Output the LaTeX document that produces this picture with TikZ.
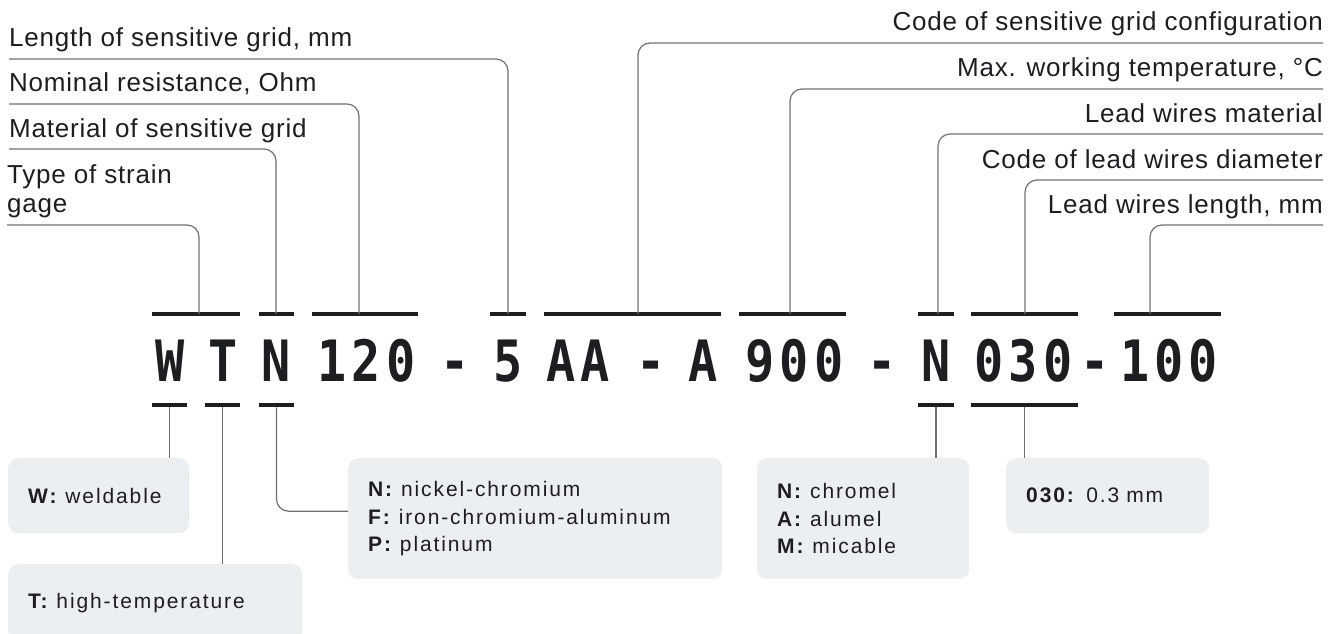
\documentclass[tikz,border=0pt]{standalone}
\usepackage{fontspec}
\setmainfont{Liberation Sans}
\newfontfamily\codefont[FakeStretch=0.85,LetterSpace=9,Numbers=SlashedZero]{DejaVu Sans Mono}
\newfontfamily\lblfont[LetterSpace=3]{Liberation Sans}
\newfontfamily\boxfont[LetterSpace=9]{Liberation Sans}
\definecolor{ink}{HTML}{1D1E21}
\definecolor{leadgray}{HTML}{707072}
\definecolor{boxgray}{HTML}{ECEFF2}

\begin{document}
\begin{tikzpicture}[x=1pt,y=-1pt,
  code/.style={font=\codefont\bfseries\fontsize{57}{60}\selectfont,text=ink,inner sep=0pt,anchor=base},
  bar/.style={fill=ink,inner sep=0pt,minimum height=4.5pt},
  lead/.style={draw=leadgray,line width=1.2pt,rounded corners=12pt},
  toplbl/.style={font=\lblfont\fontsize{26}{29}\selectfont,text=ink,inner sep=0pt,align=left},
  infobox/.style={fill=boxgray,rounded corners=10pt,anchor=north west,inner xsep=20pt,inner ysep=0pt,
    align=left,text=ink,font=\boxfont\fontsize{21}{27.5}\selectfont}]
  \useasboundingbox (0,0) rectangle (1341,634);
  \clip (0,0) rectangle (1341,634);

  % the code itself
  \node[code] (cW) at (170,381) {W};
  \node[code] (cT) at (223,381) {T};
  \node[code] (cN) at (276.5,381) {N};
  \node[code] (c120) at (366.5,381) {120};
  \node[code] (d1) at (455,381) {-};
  \node[code] (c5) at (508,381) {5};
  \node[code] (cAA) at (578,381) {AA};
  \node[code] (d2) at (651,381) {-};
  \node[code] (cA) at (703.5,381) {A};
  \node[code] (c900) at (794.5,381) {900};
  \node[code] (d3) at (882,381) {-};
  \node[code] (cN2) at (936,381) {N};
  \node[code] (c030) at (1023.5,381) {030};
  \node[code] (d4) at (1095.5,381) {-};
  \node[code] (c100) at (1169,381) {100};

  % labels above
  \node[toplbl,anchor=base west] (lblLen) at (9,47) {Length of sensitive grid, mm};
  \node[toplbl,anchor=base west] (lblNom) at (9,92) {Nominal resistance, Ohm};
  \node[toplbl,anchor=base west] (lblMat) at (9,137) {Material of sensitive grid};
  \node[toplbl,anchor=base west] (lblType) at (7,212) {Type of strain\\gage};
  \node[toplbl,anchor=base east] (lblCfg) at (1323,31) {Code of sensitive grid configuration};
  \node[toplbl,anchor=base east] (lblMax) at (1323,77) {Max. working temperature, \textdegree C};
  \node[toplbl,anchor=base east] (lblWire) at (1323,122) {Lead wires material};
  \node[toplbl,anchor=base east] (lblDia) at (1323,168) {Code of lead wires diameter};
  \node[toplbl,anchor=base east] (lblLong) at (1323,213) {Lead wires length, mm};

  \coordinate (stType) at (199,314);
  \coordinate (stMat) at (276,314);
  \coordinate (stNom) at (359,314);
  \coordinate (stLen) at (508,314);
  \coordinate (stCfg) at (638,314);
  \coordinate (stMax) at (790,314);
  \coordinate (stWire) at (938,314);
  \coordinate (stDia) at (1025,314);
  \coordinate (stLong) at (1150,314);

  % boxes below
  \node[infobox,minimum width=181pt,minimum height=75pt,text width=141pt] (boxW) at (8,458) {\textbf{W:} weldable};
  \node[infobox,minimum width=294pt,minimum height=78pt,text width=254pt] (boxT) at (8,564) {\textbf{T:} high-temperature};
  \node[infobox,minimum width=374pt,minimum height=121pt,text width=334pt] (boxMat) at (348,458)
    {\textbf{N:} nickel-chromium\\\textbf{F:} iron-chromium-aluminum\\\textbf{P:} platinum};
  \node[infobox,minimum width=212pt,minimum height=121pt,text width=172pt] (boxWire) at (757,458)
    {\textbf{N:} chromel\\\textbf{A:} alumel\\\textbf{M:} micable};
  \node[infobox,minimum width=203pt,minimum height=75pt,text width=163pt] (boxDia) at (1006,458) {\textbf{030:} 0.3 mm};

  % bars over and under the code
  \node[bar,minimum width=88pt] (tbWT) at (196,314) {};
  \node[bar,minimum width=35pt] (tbN) at (276.5,314) {};
  \node[bar,minimum width=106pt] (tb120) at (365,314) {};
  \node[bar,minimum width=36pt] (tb5) at (508,314) {};
  \node[bar,minimum width=177pt] (tbAA) at (632.5,314) {};
  \node[bar,minimum width=107pt] (tb900) at (792.5,314) {};
  \node[bar,minimum width=36pt] (tbN2) at (936,314) {};
  \node[bar,minimum width=107pt] (tb030) at (1024.5,314) {};
  \node[bar,minimum width=107pt] (tb100) at (1167.5,314) {};
  \node[bar,minimum width=35pt] (bbW) at (169.5,405) {};
  \node[bar,minimum width=35pt] (bbT) at (222.5,405) {};
  \node[bar,minimum width=35pt] (bbN) at (276.5,405) {};
  \node[bar,minimum width=36pt] (bbN2) at (936,405) {};
  \node[bar,minimum width=107pt] (bb030) at (1024.5,405) {};

  % leads
  \draw[lead] ([yshift=-12pt]lblLen.base west) -| (stLen);
  \draw[lead] ([yshift=-12pt]lblNom.base west) -| (stNom);
  \draw[lead] ([yshift=-12pt]lblMat.base west) -| (stMat);
  \draw[lead] ([yshift=-13pt]lblType.base west) -| (stType);
  \draw[lead] ([yshift=-12pt]lblCfg.base east) -| (stCfg);
  \draw[lead] ([yshift=-12pt]lblMax.base east) -| (stMax);
  \draw[lead] ([yshift=-12pt]lblWire.base east) -| (stWire);
  \draw[lead] ([yshift=-12pt]lblDia.base east) -| (stDia);
  \draw[lead] ([yshift=-12pt]lblLong.base east) -| (stLong);
  \draw[lead] (bbW) -- (bbW |- boxW.north);
  \draw[lead] (bbT) -- (bbT |- boxT.north);
  \draw[lead] (bbN) |- ([yshift=7.5pt]boxMat.west);
  \draw[lead] (bbN2) -- (bbN2 |- boxWire.north);
  \draw[lead] (bb030) -- (bb030 |- boxDia.north);
\end{tikzpicture}
\end{document}
